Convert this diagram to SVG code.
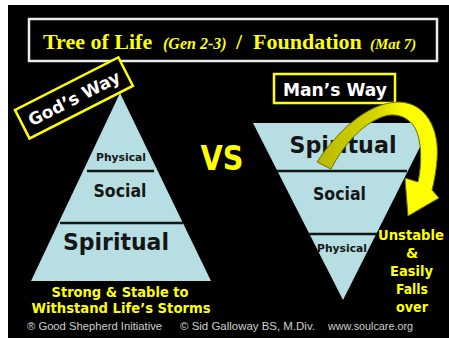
<svg xmlns="http://www.w3.org/2000/svg" width="449" height="339" viewBox="0 0 449 339">
<defs>
<style>
.pyr{fill:#b7dfe3}
.div{stroke:#151515;stroke-width:2.5}
.lbl{font-family:"DejaVu Sans",Verdana,sans-serif;font-weight:bold;fill:#151515;text-anchor:middle}
.yel{font-family:"DejaVu Sans",Verdana,sans-serif;font-weight:bold;fill:#ffff00;text-anchor:middle}
.wht{font-family:"DejaVu Sans",Verdana,sans-serif;font-weight:bold;fill:#ffffff;text-anchor:middle}
.ttl{font-family:"Liberation Serif","Times New Roman",serif;font-weight:bold;fill:#ffff00}
.it{font-style:italic}
.foot{font-family:"Liberation Sans",Arial,sans-serif;font-size:10.5px;fill:#d0d0d0}
</style>
<linearGradient id="arrGrad" x1="0" y1="0" x2="1" y2="0">
<stop offset="0" stop-color="#b9b900"/>
<stop offset="0.5" stop-color="#d6d600"/>
<stop offset="0.72" stop-color="#ffff00"/>
<stop offset="1" stop-color="#ffff00"/>
</linearGradient>
</defs>
<rect x="0" y="0" width="449" height="339" fill="#ffffff"/>
<rect x="8" y="5" width="441" height="333" fill="#000000"/>

<g id="title">
<rect x="29" y="19" width="408" height="42" fill="#000" stroke="#ececec" stroke-width="2.5"/>
<text class="ttl" y="49"><tspan x="43" font-size="22">Tree of Life</tspan><tspan x="163" font-size="16" class="it">(Gen 2-3)</tspan><tspan x="236" font-size="22">/</tspan><tspan x="253" font-size="22">Foundation</tspan><tspan x="370" font-size="15" class="it">(Mat 7)</tspan></text>
</g>

<g id="gods-pyramid">
<polygon class="pyr" points="120,93 211,281 31,281"/>
<line class="div" x1="87" y1="171" x2="154" y2="171"/>
<line class="div" x1="60" y1="223" x2="183" y2="223" stroke-width="3"/>
<text class="lbl" x="121" y="161" font-size="11" textLength="50" lengthAdjust="spacingAndGlyphs">Physical</text>
<text class="lbl" x="120" y="197" font-size="18" textLength="53" lengthAdjust="spacingAndGlyphs">Social</text>
<text class="lbl" x="116" y="250" font-size="23" textLength="106" lengthAdjust="spacingAndGlyphs">Spiritual</text>
</g>

<g id="gods-way-label" transform="translate(15,110) rotate(-27)">
<rect x="0" y="0" width="116" height="32" fill="#000" stroke="#ffff00" stroke-width="2.5"/>
<text class="wht" x="58" y="22.5" font-size="17">God’s Way</text>
</g>

<g id="gods-caption">
<text class="yel" x="120" y="297" font-size="14" textLength="137" lengthAdjust="spacingAndGlyphs">Strong &amp; Stable to</text>
<text class="yel" x="121" y="313" font-size="14" textLength="179" lengthAdjust="spacingAndGlyphs">Withstand Life’s Storms</text>
</g>

<g id="vs">
<text class="yel" x="222" y="170" font-size="34" textLength="43" lengthAdjust="spacingAndGlyphs">VS</text>
</g>

<g id="mans-way-label">
<rect x="274" y="74" width="121" height="29" fill="#000" stroke="#ffff00" stroke-width="2.5"/>
<text class="wht" x="335" y="96" font-size="17" textLength="104" lengthAdjust="spacingAndGlyphs">Man’s Way</text>
</g>

<g id="mans-pyramid">
<polygon class="pyr" points="253,123 432,123 343,300"/>
<line class="div" x1="277" y1="171" x2="407" y2="171"/>
<line class="div" x1="308" y1="234" x2="377" y2="234"/>
<text class="lbl" x="343" y="153" font-size="23" textLength="107" lengthAdjust="spacingAndGlyphs">Spiritual</text>
<text class="lbl" x="339.5" y="200" font-size="18" textLength="53" lengthAdjust="spacingAndGlyphs">Social</text>
<text class="lbl" x="342" y="252" font-size="11" textLength="50" lengthAdjust="spacingAndGlyphs">Physical</text>
</g>

<g id="connectors">
<path d="M317,162 C335,135 365,103 398,102 C425,102 440,128 437,160 C436,172 434,182 432,190 L439,198 L408,216 L405,178 L418,182 C422,165 422,140 415,128 C408,116 395,113 385,116 C365,122 345,142 331,169 Z" fill="url(#arrGrad)" stroke="#6e6e00" stroke-width="1"/>
</g>

<g id="mans-caption">
<text class="yel" x="411" y="240" font-size="14" textLength="66" lengthAdjust="spacingAndGlyphs">Unstable</text>
<text class="yel" x="412" y="258" font-size="14">&amp;</text>
<text class="yel" x="411.5" y="276" font-size="14" textLength="43" lengthAdjust="spacingAndGlyphs">Easily</text>
<text class="yel" x="412" y="294" font-size="14" textLength="32" lengthAdjust="spacingAndGlyphs">Falls</text>
<text class="yel" x="412" y="312" font-size="14" textLength="32" lengthAdjust="spacingAndGlyphs">over</text>
</g>

<g id="footer">
<text class="foot" x="27" y="330" textLength="135" lengthAdjust="spacingAndGlyphs">® Good Shepherd Initiative</text>
<text class="foot" x="180" y="330" textLength="135" lengthAdjust="spacingAndGlyphs">©  Sid Galloway BS, M.Div.</text>
<text class="foot" x="328" y="330" textLength="85" lengthAdjust="spacingAndGlyphs">www.soulcare.org</text>
</g>
</svg>
